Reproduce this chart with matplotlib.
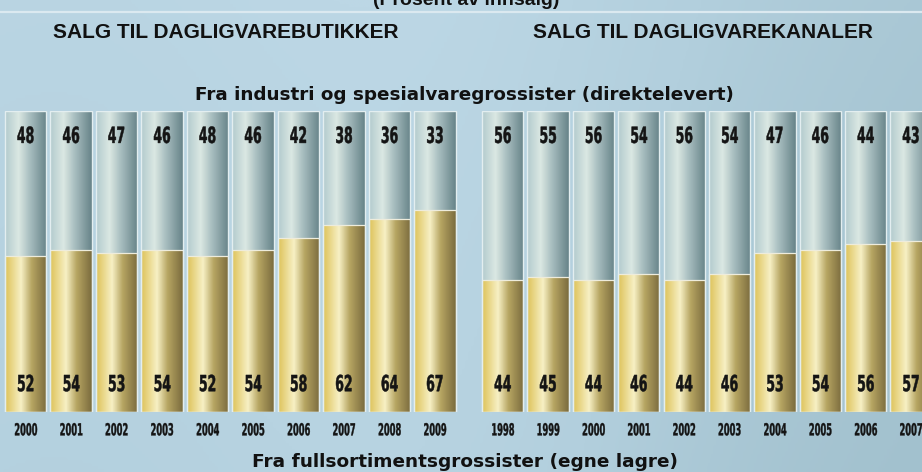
import numpy as np
import matplotlib
matplotlib.use("Agg")
import matplotlib.pyplot as plt
from matplotlib.colors import LinearSegmentedColormap
from matplotlib.patheffects import AbstractPathEffect
from matplotlib.transforms import Affine2D

# ---------------- data ----------------
left_years = ["2000", "2001", "2002", "2003", "2004", "2005", "2006", "2007", "2008", "2009"]
left_direct = [48, 46, 47, 46, 48, 46, 42, 38, 36, 33]
left_full = [52, 54, 53, 54, 52, 54, 58, 62, 64, 67]

right_years = ["1998", "1999", "2000", "2001", "2002", "2003", "2004", "2005", "2006", "2007"]
right_direct = [56, 55, 56, 54, 56, 54, 47, 46, 44, 43]
right_full = [44, 45, 44, 46, 44, 46, 53, 54, 56, 57]

top_title = "(Prosent av innsalg)"
left_title = "SALG TIL DAGLIGVAREBUTIKKER"
right_title = "SALG TIL DAGLIGVAREKANALER"
upper_label = "Fra industri og spesialvaregrossister (direktelevert)"
lower_label = "Fra fullsortimentsgrossister (egne lagre)"

W, H = 922, 472
fig = plt.figure(figsize=(W / 100, H / 100), dpi=100)


class Condense(AbstractPathEffect):
    """Horizontally compress text around its centre (condensed look)."""
    def __init__(self, sx, lw=0.3):
        super().__init__()
        self.sx = sx
        self.lw = lw

    def draw_path(self, renderer, gc, tpath, affine, rgbFace=None):
        ext = tpath.get_extents(affine)
        cx = 0.5 * (ext.x0 + ext.x1)
        t = affine + Affine2D().translate(-cx, 0).scale(self.sx, 1).translate(cx, 0)
        gc0 = renderer.new_gc()
        gc0.copy_properties(gc)
        gc0.set_linewidth(self.lw)
        gc0.set_joinstyle("miter")
        renderer.draw_path(gc0, tpath, t, rgbFace)
        gc0.restore()


# ---------------- background ----------------
bg = fig.add_axes([0, 0, 1, 1])
bg.set_axis_off()
xx = np.linspace(0, 1, 300)
yy = np.linspace(0, 1, 160)
X, Y = np.meshgrid(xx, yy)
bg_val = 0.5 * X + 0.2 * Y - 0.35 * np.exp(-((X - 0.45) ** 2) / 0.08)
bg_cmap = LinearSegmentedColormap.from_list("bg", ["#bcd7e5", "#b2cfdd", "#a2c1ce"])
bg.imshow(bg_val, cmap=bg_cmap, extent=[0, 1, 0, 1], aspect="auto", origin="upper")
bg.set_xlim(0, 1)
bg.set_ylim(0, 1)
bg.axhline(1 - 11.7 / H, color="#dbe9f0", lw=1.6)


def px(x, y):
    return x / W, 1 - y / H


blue_cmap = LinearSegmentedColormap.from_list(
    "blue", [(0, "#b3cbce"), (0.32, "#dbe8e3"), (0.6, "#a7bdbf"), (1.0, "#678489")])
gold_cmap = LinearSegmentedColormap.from_list(
    "gold", [(0, "#dec35a"), (0.38, "#f7f0c4"), (0.64, "#b6a562"), (1.0, "#7b6c3e")])
grad = np.linspace(0, 1, 64).reshape(1, -1)

ax_bottom = 1 - 412.3 / H
ax_height = (412.3 - 111) / H
panels = [
    (2.9, 454.8, left_years, left_full, left_direct),
    (480.0, 453.7, right_years, right_full, right_direct),
]

num_font = dict(family="DejaVu Sans", weight="bold", color="#141414")

for left_px, width_px, years, full, direct in panels:
    ax = fig.add_axes([left_px / W, ax_bottom, width_px / W, ax_height])
    ax.set_axis_off()
    ax.patch.set_alpha(0)
    x = np.arange(len(years))
    bw = 0.91
    gold = ax.bar(x, full, width=bw, facecolor="none", edgecolor="none")
    blue = ax.bar(x, direct, width=bw, bottom=full, facecolor="none", edgecolor="none")
    for cont, cmap in ((gold, gold_cmap), (blue, blue_cmap)):
        for p in cont.patches:
            x0, y0 = p.get_x(), p.get_y()
            ax.imshow(grad, cmap=cmap, extent=[x0, x0 + p.get_width(), y0, y0 + p.get_height()],
                      aspect="auto", zorder=1)
    # light borders
    ax.bar(x, [f + d for f, d in zip(full, direct)], width=bw, facecolor="none",
           edgecolor="#e3eef0", linewidth=1.0, zorder=3)
    ax.bar(x, full, width=bw, facecolor="none", edgecolor="#eeecdc", linewidth=0.9, zorder=2)
    ax.set_xlim(-0.5, len(years) - 0.5)
    ax.set_ylim(0, 100)
    for i in range(len(years)):
        ax.text(x[i], 91.4, str(direct[i]), ha="center", va="center", fontsize=16,
                path_effects=[Condense(0.56, 0.35)], zorder=5, clip_on=False, **num_font)
        ax.text(x[i], 9.0, str(full[i]), ha="center", va="center", fontsize=16,
                path_effects=[Condense(0.56, 0.35)], zorder=5, clip_on=False, **num_font)
        ax.text(x[i], -6.0, years[i], ha="center", va="center", fontsize=12,
                path_effects=[Condense(0.5, 0.25)], zorder=5, clip_on=False, **num_font)

title_font = dict(family="Liberation Sans", weight="bold", color="#111111")
fig.text(*px(466, 5), top_title, ha="center", va="baseline", fontsize=14, **title_font)
fig.text(*px(226, 33), left_title, ha="center", va="center", fontsize=15, **title_font)
fig.text(*px(702.5, 33), right_title, ha="center", va="center", fontsize=15, **title_font)

label_font = dict(family="DejaVu Sans", weight="bold", color="#111111")
fig.text(*px(464.5, 100), upper_label, ha="center", va="baseline", fontsize=13.2, **label_font)
fig.text(*px(465, 467), lower_label, ha="center", va="baseline", fontsize=13.3, **label_font)

fig.savefig("out.png", dpi=100)
